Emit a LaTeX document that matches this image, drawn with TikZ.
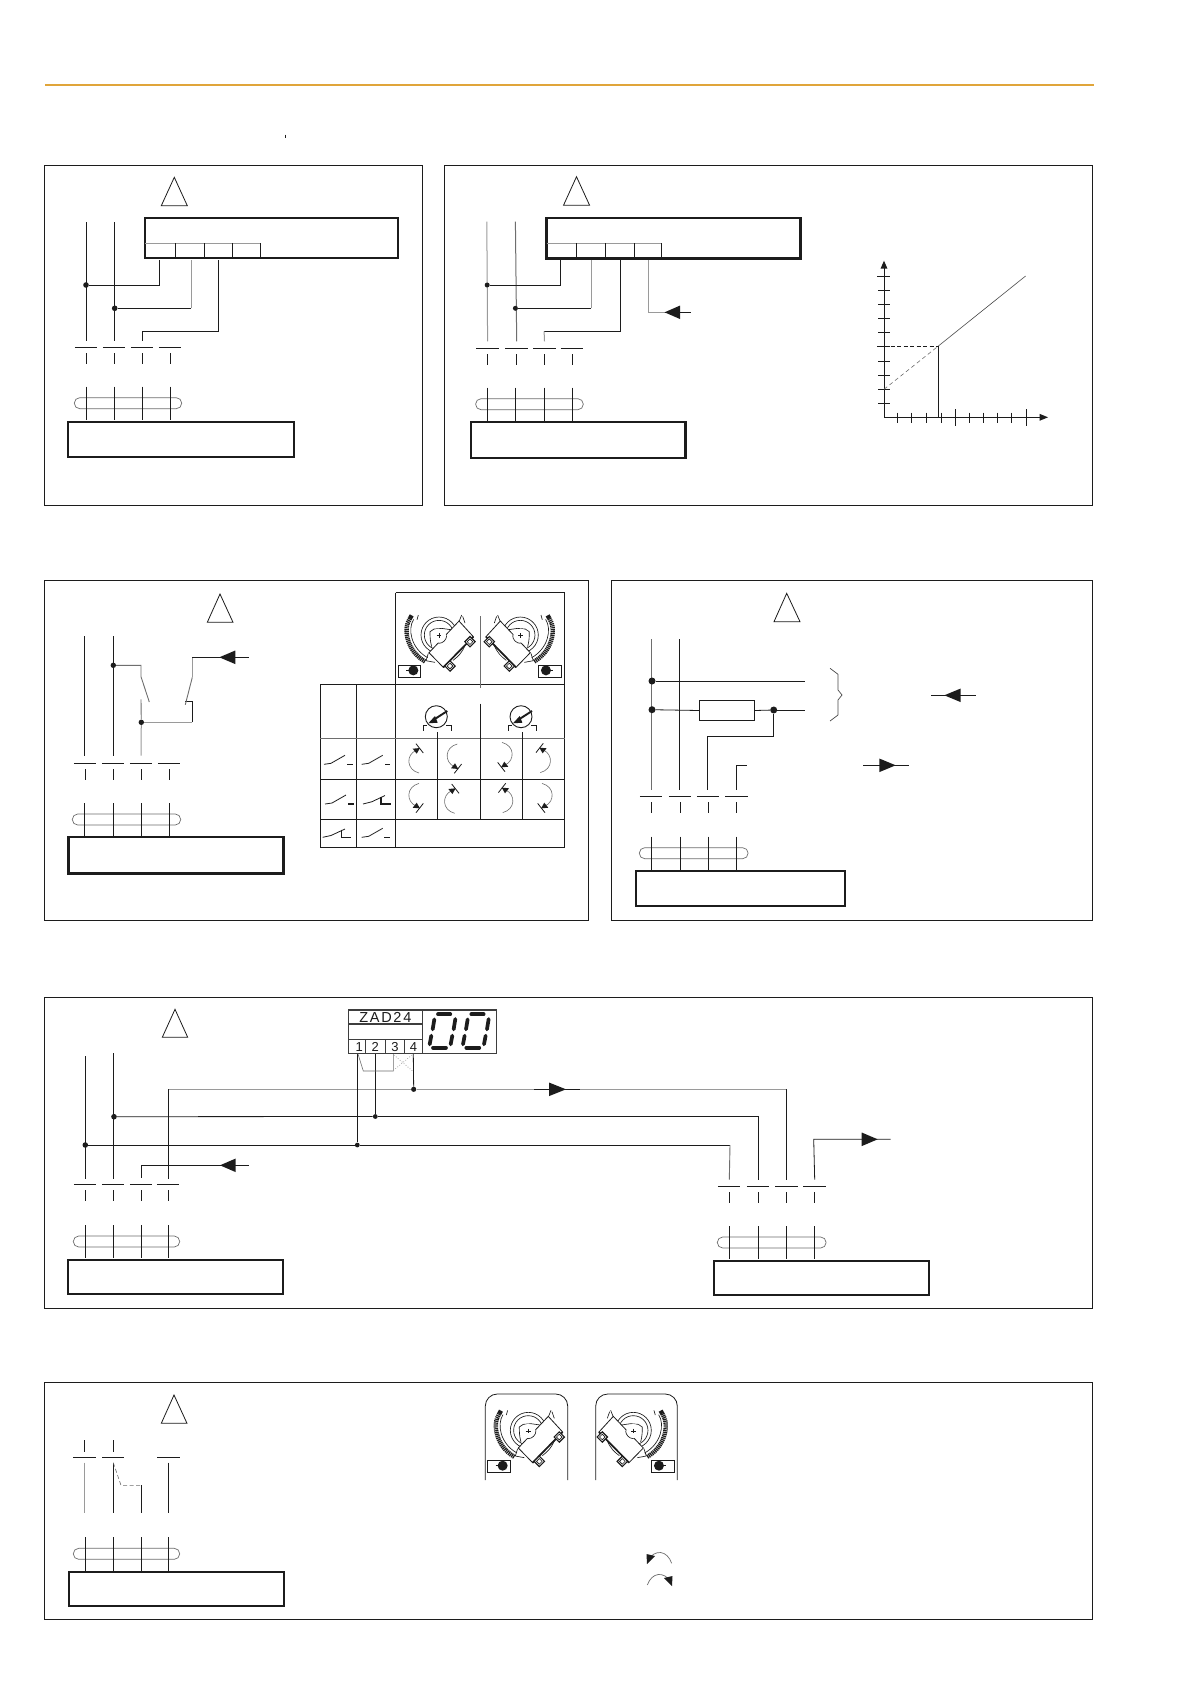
\documentclass[tikz,border=0pt]{standalone}
\usepackage{fontspec}
\setmainfont{Liberation Sans}
\newfontfamily\zadfont[LetterSpace=12]{Liberation Sans}
\definecolor{ink}{HTML}{1C1C1C}
\definecolor{pale}{HTML}{9A9A9A}
\definecolor{mid}{HTML}{6E6E6E}
\definecolor{amber}{HTML}{E0A53A}
\tikzset{
  wire/.style={draw=ink,line width=0.8pt},
  palewire/.style={draw=pale,line width=1pt},
  panel/.style={draw=ink,line width=0.9pt,fill=none},
  heavybox/.style={draw=ink,line width=2.4pt,fill=none},
  dot/.style={circle,fill=ink,inner sep=0pt,minimum size=5.6pt},
  warn/.style={draw=ink,line width=0.8pt,line join=miter},
  pill/.style={draw=mid,line width=0.7pt,rounded corners=5.4pt},
  grid/.style={draw=ink,line width=0.7pt},
  gridpale/.style={draw=mid,line width=0.8pt},
  thinwire/.style={draw=mid,line width=0.6pt},
  darkthin/.style={draw=ink,line width=0.65pt},
  seg/.style={draw=ink,line width=3.7pt,line cap=round},
  actuator/.pic={
    \begin{scope}[x=0.3333pt,y=-0.3333pt]
      \draw[darkthin] (0,-2) circle [radius=54];
      \draw[darkthin] (0,-2) circle [radius=44];
      \draw[darkthin] (-22,33) .. controls (-27,15) and (-27,0) .. (-27,-12) -- (-15,-20) -- (8,-22) -- (43,-17);
      \draw[draw=ink,line width=4.4pt,dash pattern=on 1.2pt off 0.7pt] (-87,-52) .. controls (-110,-20) and (-95,48) .. (-41,78);
      \draw[draw=ink,line width=4.4pt] (-87,-52) -- (-82,-61);
      \draw[darkthin] (-76,-49) .. controls (-95,-20) and (-84,38) .. (-34,66);
      \draw[darkthin] (-62,-62) -- (-66,-48);
      \draw[darkthin] (68,-62) -- (60,-42) (71,-58) -- (78,-38);
      \draw[darkthin] (-39,75) -- (-32,53) (-39,75) -- (-12,80);
      \draw[wire,fill=white] (60,-44) -- (103,3) -- (13,95) -- (-30,51) -- cycle;
      \draw[draw=ink,line width=1.7pt] (103,3) -- (13,95);
      \draw[darkthin] (78,30) .. controls (68,52) and (58,62) .. (42,74);
      \draw[draw=ink,line width=1.1pt,fill=white,rotate around={45:(93,18)}] (82,7) rectangle (104,29);
      \draw[draw=ink,line width=1.1pt,fill=white,rotate around={45:(33,91)}] (22,80) rectangle (44,102);
      \draw[darkthin,rotate around={45:(93,18)}] (87,12) rectangle (99,24);
      \draw[darkthin,rotate around={45:(33,91)}] (27,85) rectangle (39,97);
      \fill[white] (0,0) circle [radius=21];
      \draw[darkthin] (23,-1) .. controls (23,12) and (12,23) .. (-1,23);
      \draw[wire] (-7,0) -- (7,0) (0,-7) -- (0,7);
      \draw[wire,fill=white] (-122,88) rectangle (-55,125);
      \fill[ink] (-77,104) circle [radius=15];
      \draw[wire] (-98,104) -- (-88,104);
    \end{scope}
  },
  rotmark/.pic={
    \draw[thinwire] (3,14.3) .. controls (-10,11) and (-10,-4) .. (0,-8.3);
    \draw[wire] (0,-15) -- (7.3,-5.7);
    \fill[ink] (4,-10.7) -- (-3.3,-10) -- (0.7,-5) -- cycle;
  }
}
% named heavy or plain rectangle
\newcommand{\boxn}[6]{%
  \pgfmathsetmacro\myw{(#4)-(#2)}\pgfmathsetmacro\myh{(#5)-(#3)}%
  \node[#6,anchor=north west,minimum width=\myw pt,minimum height=\myh pt,inner sep=0pt,outer sep=0pt] (#1) at (#2,#3) {};}
% heavy rectangle given by its outer edges
\newcommand{\hvy}[5]{\boxn{#1}{#2+1.1}{#3+1.1}{#4-1.1}{#5-1.1}{heavybox}}
% warning triangle
\newcommand{\warntri}[6]{\draw[warn] (#1,#2) -- (#3,#6) -- (#4,#6) -- cycle;}
% terminal row: name, four x, y of the dashes
\newcommand{\termunit}[6]{%
  \foreach \k/\xx in {1/#2,2/#3,3/#4,4/#5}{%
    \draw[wire] (\xx-11.4,#6) -- (\xx+11,#6);
    \draw[wire] (\xx,#6+6) -- (\xx,#6+17);
    \coordinate (#1\k) at (\xx,#6-6.6);
  }}
% cable stubs and pill: four x, y of the top
\newcommand{\lowunit}[5]{%
  \draw[pill] (#1-12,#5+11) rectangle (#4+11.4,#5+22);
  \foreach \xx in {#1,#2,#3,#4}{\draw[wire] (\xx,#5) -- (\xx,#5+33.3);}}
\newcommand{\arrL}[3]{\fill[ink] (#1,#3) -- (#2,#3-6.8) -- (#2,#3+6.8) -- cycle;}
\newcommand{\swa}[2]{\draw[wire] (#1,#2) -- (#1+7,#2-1) -- (#1+21,#2-9);}
\newcommand{\gauge}[2]{%
  \draw[draw=ink,line width=0.9pt] (#1,#2) circle [radius=11];
  \draw[draw=ink,line width=1.9pt] (#1+11,#2-5.7) -- (#1-1,#2+2);
  \fill[ink] (#1-8,#2+6.6) -- (#1-1.3,#2-0.7) -- (#1+1.4,#2+6) -- cycle;
  \draw[wire] (#1-13,#2+14) -- (#1-13,#2+8.3) -- (#1-9,#2+8.3);
  \draw[wire] (#1+10,#2+8.3) -- (#1+15,#2+8.3) -- (#1+15,#2+14);}
\newcommand{\sevenzero}[1]{%
  \begin{scope}[x=0.3333pt,y=-0.3333pt,shift={(#1,0)}]
    \draw[seg] (294,43) -- (331,43);
    \draw[seg] (283,58) -- (278,88);
    \draw[seg] (346,57) -- (341,88);
    \draw[seg] (274,107) -- (269,133);
    \draw[seg] (337,107) -- (332,133);
    \draw[seg] (279,143) -- (318,143);
  \end{scope}}
\begin{document}
\begin{tikzpicture}[x=1pt,y=-1pt]
\useasboundingbox (0,0) rectangle (1190,1684);
\fill[white] (0,0) rectangle (1190,1684);
% header rule and the tiny mark
\draw[draw=amber,line width=1.5pt] (45,85) coordinate (rulea) -- (1094,85) coordinate (ruleb);
\draw[draw=ink,line width=0.6pt] (285.5,134.5) coordinate (ticka) -- (285.5,137.5) coordinate (tickb);

% ---------- panel 1
\boxn{pa}{44.3}{165.7}{422.7}{505.7}{panel}
\warntri{174.3}{177.3}{161.3}{187.3}{}{205.7}
\hvy{patop}{143.7}{216.7}{399.3}{259.3}
\draw[palewire] (145,243.3) -- (260.3,243.3);
\foreach \xx in {175.3,204.3,232.3,260.3}{\draw[wire] (\xx,243.3) -- (\xx,258);}
\termunit{pat}{86.3}{114.3}{142.3}{170.3}{347.3}
\lowunit{86.3}{114.3}{142.3}{170.3}{386.7}
\hvy{pabox}{66.7}{421}{295.3}{458}
\draw[wire] (86.3,222.3) coordinate (pav1) -- (pat1);
\draw[wire] (114.3,222.3) coordinate (pav2) -- (pat2);
\node[dot] (pad1) at (86,285) {};
\node[dot] (pad2) at (114.7,308.3) {};
\draw[wire] (pad1) -| (159.3,260);
\draw[wire] (pad2) -- (191,308.3);
\draw[palewire] (191,308.3) -- (191,260);
\draw[wire] (218.3,260) -- (218.3,331.3) -| (pat3);

% ---------- panel 2
\boxn{pb}{444.6}{165.3}{1092.7}{505.3}{panel}
\warntri{576.5}{176.7}{563.5}{589.6}{}{205.3}
\hvy{pbtop}{545.4}{217}{801.6}{259.7}
\draw[palewire] (546.5,243.3) -- (661.7,243.3);
\foreach \xx in {576.5,605.6,633.9,661.7}{\draw[wire] (\xx,243.3) -- (\xx,258.5);}
\termunit{pbt}{487.6}{516.7}{544.5}{571.9}{348}
\lowunit{487.6}{515.4}{544.5}{571.9}{387.7}
\hvy{pbbox}{469.9}{421}{686.5}{459.3}
\draw[draw=pale,line width=1pt] (486.8,221.7) coordinate (pbv1) -- (pbt1);
\draw[draw=mid,line width=1pt] (515.4,221.7) coordinate (pbv2) -- (pbt2);
\node[dot,minimum size=5pt] (pbd1) at (487.2,285) {};
\node[dot,minimum size=5pt] (pbd2) at (515.4,308.3) {};
\draw[wire] (pbd1) -| (560.5,260);
\draw[wire] (pbd2) -- (591.3,308.3);
\draw[palewire] (591.3,308.3) -- (591.3,260);
\draw[wire] (620,260) -- (620,331.3) -- (544.1,331.3);
\draw[palewire] (544.1,331.3) -- (pbt3);
\draw[palewire] (648.2,260) -- (648.2,312.3) -- (664.6,312.3);
\draw[wire] (664.6,312.3) -- (691.2,312.3);
\arrL{664.6}{680.2}{312.3}
% graph
\begin{scope}[xshift=-1pt]
\coordinate (gorg) at (885,417.3);
\draw[wire] (885,268) coordinate (gtop) -- (gorg) -- (1042,417.3) coordinate (gright);
\fill[ink] (885,260.7) -- (881.6,268.5) -- (888.4,268.5) -- cycle;
\fill[ink] (1049,417.3) -- (1040.5,413.8) -- (1040.5,420.8) -- cycle;
\foreach \yy in {276.7,346.3}{\draw[wire] (878.3,\yy) -- (891,\yy);}
\foreach \yy in {290.3,304.3,318.3,332.3,361.3,375.3,389.3,403.3}{\draw[wire] (879,\yy) -- (891,\yy);}
\foreach \xx in {898.5,912.8,927.6,941.9,970.1,984,998.3,1012.2}{\draw[wire] (\xx,412.7) -- (\xx,422.7);}
\foreach \xx in {956.2,1027}{\draw[wire] (\xx,409.3) -- (\xx,426);}
\coordinate (gknee) at (939,346.3);
\draw[draw=ink!80,line width=0.6pt] (gknee) -- (1026.6,276) coordinate (gend);
\draw[thinwire,dash pattern=on 4pt off 3pt] (885,389.3) coordinate (gcut) -- (gknee);
\draw[wire,dash pattern=on 4pt off 2.5pt] (885,346.3) coordinate (glevel) -- (gknee);
\draw[draw=ink,line width=1pt] (gknee) -- (939,417.3) coordinate (gfoot);
\end{scope}

% ---------- panel 3
\boxn{pc}{44.3}{580.3}{588.5}{920.3}{panel}
\draw[draw=ink,line width=1.4pt] (588.5,580.3) -- (588.5,920.3);
\warntri{220}{594}{207.3}{233}{}{622.3}
\termunit{pct}{85.3}{113.3}{141.3}{169.3}{763.3}
\lowunit{84.3}{113.3}{141.3}{169.3}{803}
\boxn{pcbox}{68.6}{837}{283.2}{873.8}{draw=ink,line width=2.8pt}
\draw[wire] (84.7,636) coordinate (pcv1) -- (84.7,755.7);
\draw[wire] (113.3,636) coordinate (pcv2) -- (113.3,755.7);
\node[dot,minimum size=5.4pt] (pcd1) at (113.3,665.3) {};
\node[dot,minimum size=5.4pt] (pcd2) at (141.3,722.3) {};
\draw[thinwire,line width=0.9pt] (pcd1) -| (141,676.7) -- (149.3,702);
\draw[thinwire,line width=0.9pt] (141,699.3) -- (pcd2);
\draw[palewire] (pcd2) -- (141,755.7);
\draw[palewire] (pcd2) -- (192.3,722.3);
\draw[wire] (192.3,722.3) -- (192.3,701.3) -- (185.3,701.3);
\draw[thinwire,line width=0.9pt] (185.3,704.7) -- (192.3,677.3);
\draw[palewire] (192.3,677.3) -- (192.3,657.3);
\draw[wire] (192.3,657.3) -- (249,657.3);
\arrL{219.3}{235.3}{657.3}
% switch table
\draw[grid] (395.6,592.7) -- (564.7,592.7) -- (564.7,847.2) -- (320,847.2) -- (320,684) -- (564.7,684);
\draw[grid] (395.6,592.7) -- (395.6,847.2);
\draw[grid] (356.5,684) -- (356.5,847.2);
\draw[gridpale] (320,737.9) -- (564.7,737.9);
\draw[grid] (320,779) -- (564.7,779) (320,819.1) -- (564.7,819.1);
\draw[gridpale] (480.5,616) -- (480.5,687.7);
\draw[draw=ink,line width=1.6pt] (480.5,703.7) -- (480.5,819.1);
\draw[grid] (437.5,732) -- (437.5,819.1) (522.5,732) -- (522.5,819.1);
\pic (acta) at (439,635.7) {actuator};
\pic[xscale=-1] (actb) at (520.3,635.7) {actuator};
\gauge{436.3}{716.7}
\gauge{521}{716.7}
\swa{324}{764.3}\draw[wire] (347,764.3) -- (353,764.3);
\swa{361.7}{764.3}\draw[wire] (385,764.3) -- (390,764.3);
\swa{325}{804}\draw[draw=ink,line width=1.5pt] (348,804) -- (354,804);
\draw[wire] (363,804) -- (372,801.7) -- (385,795.5);\draw[draw=ink,line width=1.2pt] (381,796.5) -- (381,804) -- (391,804);
\draw[wire] (322.7,837.3) -- (331,835.5) -- (345,829);\draw[wire] (341.7,829.5) -- (341.7,837.3) -- (351,837.3);
\swa{361.7}{837.3}\draw[wire] (384,837.3) -- (390,837.3);
\pic at (416,758.7) {rotmark};
\pic[yscale=-1] at (454.3,758.3) {rotmark};
\pic[xscale=-1,yscale=-1] at (505,756.7) {rotmark};
\pic[xscale=-1] at (543.3,758.3) {rotmark};
\pic[yscale=-1] at (416,797.7) {rotmark};
\pic at (451.7,799) {rotmark};
\pic[xscale=-1] at (505.7,798.3) {rotmark};
\pic[xscale=-1,yscale=-1] at (545,797.7) {rotmark};

% ---------- panel 4
\boxn{pd}{611.3}{580.3}{1092.7}{920.3}{panel}
\warntri{786.7}{593.3}{774}{800}{}{621.7}
\termunit{pdt}{651.3}{680.3}{708.3}{736.7}{796.3}
\lowunit{651.3}{680.3}{708.3}{736.7}{836.7}
\hvy{pdbox}{635}{869.7}{846.3}{907}
\draw[draw=mid,line width=0.9pt] (651.3,639) coordinate (pdv1) -- (pdt1);
\draw[wire] (679.3,639) coordinate (pdv2) -- (679.3,789.7);
\node[dot,minimum size=7pt] (pdd1) at (652,681) {};
\node[dot,minimum size=7pt] (pdd2) at (652,709.7) {};
\node[dot,minimum size=7pt] (pdd3) at (773.7,710) {};
\boxn{pdres}{699.3}{700.3}{754.7}{720.7}{wire,line width=0.9pt}
\draw[wire] (pdd1) -- (805,681) coordinate (pde1);
\draw[wire] (pdd2) -- (pdres.west);
\draw[wire] (pdres.east) -- (pdd3);
\draw[wire] (pdd3) -- (805,710) coordinate (pde2);
\draw[wire] (pdd3) |- (707.7,736.3) -- (707.7,789.7);
\draw[wire] (pdt4) -- (736.7,765.3) -- (747,765.3) coordinate (pde3);
\draw[draw=ink!80,line width=0.7pt,line join=round] (830,668.3) -- (838,674.3) -- (838,690) -- (842,695) -- (838,700) -- (838,715) -- (830,721);
\draw[wire] (931,695.3) coordinate (pdl1) -- (976,695.3) coordinate (pdl2);
\arrL{944.3}{960.7}{695.3}
\draw[wire] (863,765.3) coordinate (pdl3) -- (909,765.3) coordinate (pdl4);
\arrL{895.7}{879.3}{765.3}

% ---------- panel 5
\boxn{pe}{44.3}{997.7}{1092.7}{1308.3}{panel}
\warntri{175}{1009.3}{162.3}{187.7}{}{1037.3}
\termunit{pet}{85.3}{113.3}{141.3}{168.3}{1184.3}
\lowunit{85.3}{113.3}{141.3}{168.3}{1225}
\hvy{pebox}{66.7}{1258.7}{284.3}{1295}
\termunit{pfr}{729.3}{758.3}{786.7}{814.7}{1186.3}
\lowunit{729.3}{758.3}{786.7}{814.7}{1226}
\hvy{pfbox}{712.7}{1260}{930.3}{1296}
\draw[wire] (85.3,1056) coordinate (pev1) -- (85.3,1179);
\draw[wire] (113.3,1053.3) coordinate (pev2) -- (113.3,1179);
\node[dot,minimum size=5.6pt] (ped1) at (85.3,1145) {};
\node[dot,minimum size=5.6pt] (ped2) at (114,1116.7) {};
\node[dot,minimum size=4.8pt] (ped3) at (357.3,1145) {};
\node[dot,minimum size=4.8pt] (ped4) at (375.3,1116.5) {};
\node[dot,minimum size=5.2pt] (ped5) at (413.7,1089.3) {};
\draw[wire] (ped1) -- (ped3);
\draw[wire] (ped3) -- (730,1145);
\draw[draw=mid,line width=0.9pt] (730,1145) -- (pfr1);
\draw[wire] (ped2) -- (ped4);
\draw[wire] (ped4) -- (758.3,1116.5) -- (pfr2);
\draw[wire] (168.7,1179) -- (168.7,1089.3);
\draw[palewire] (168.7,1089.3) -- (ped5);
\draw[palewire] (ped5) -- (534,1089.3);
\draw[wire] (534,1089.3) -- (580,1089.3);
\draw[palewire] (580,1089.3) -- (786.7,1089.3);
\draw[wire] (786.7,1089.3) -- (pfr3);
\arrL{566}{549}{1089.3}
\draw[wire] (pet3) -- (141.3,1165.3) -- (249,1165.3) coordinate (pee1);
\arrL{220}{235.7}{1165.3}
\draw[wire] (pfr4) -- (813.7,1139.3) -- (890.7,1139.3) coordinate (pee2);
\arrL{877.7}{861.7}{1139.3}
% ZAD24 unit
\boxn{zad}{348.7}{1010}{496.7}{1053.3}{draw=ink!85,line width=1.5pt}
\draw[draw=ink!85,line width=1.5pt] (422.3,1010) -- (422.3,1053.3);
\draw[draw=ink!85,line width=1.2pt] (348.7,1024) -- (422.3,1024) (348.7,1039.3) -- (422.3,1039.3);
\draw[draw=ink!85,line width=1pt] (365.7,1039.3) -- (365.7,1053.3) (385,1039.3) -- (385,1053.3) (404.3,1039.3) -- (404.3,1053.3);
\node[font=\zadfont\fontsize{14.5}{14.5}\selectfont,text=ink,inner sep=0pt] (zadname) at (385.3,1017.3) {ZAD24};
\node[font=\fontsize{13}{13}\selectfont,text=ink,inner sep=0pt] (zadn1) at (359.3,1046.7) {1};
\node[font=\fontsize{13}{13}\selectfont,text=ink,inner sep=0pt] (zadn2) at (375.3,1046.7) {2};
\node[font=\fontsize{13}{13}\selectfont,text=ink,inner sep=0pt] (zadn3) at (395,1046.7) {3};
\node[font=\fontsize{13}{13}\selectfont,text=ink,inner sep=0pt] (zadn4) at (413.5,1046.7) {4};
\begin{scope}[shift={(340,1000)}]
\sevenzero{0}
\sevenzero{100}
\end{scope}
\draw[wire] (357.3,1054) -- (ped3);
\draw[wire] (375.3,1054) -- (ped4);
\draw[wire] (413.3,1054) -- (ped5);
\draw[thinwire] (358,1054) -- (363.3,1071) -- (393.3,1071) -- (393.3,1054);
\draw[draw=mid,line width=0.6pt,dotted] (394,1055) -- (412.5,1071) (412,1055) -- (394,1070);

% ---------- panel 6
\boxn{pf}{44.7}{1382.7}{1092.7}{1619}{panel}
\warntri{174}{1395}{161.3}{187}{}{1423.3}
\foreach \xx in {84.7,113.3}{\draw[wire] (\xx,1440) -- (\xx,1451.7);}
\draw[wire] (73,1457.3) -- (96,1457.3) (102,1457.3) -- (124,1457.3) (157,1457.3) -- (180,1457.3);
\draw[palewire] (84.7,1462.7) coordinate (pgv1) -- (84.7,1513.3) coordinate (pgw1);
\draw[wire] (113.3,1462.7) coordinate (pgv2) -- (113.3,1513.3) coordinate (pgw2);
\draw[wire] (168.3,1462.7) coordinate (pgv4) -- (168.3,1513.3) coordinate (pgw4);
\draw[thinwire,dash pattern=on 4pt off 2.5pt] (pgv2) -- (121,1485.3) -- (141.3,1485.3);
\draw[wire] (141.3,1485.3) -- (141.3,1513.3) coordinate (pgw3);
\lowunit{85.3}{113.3}{141.3}{168.3}{1537.3}
\hvy{pgbox}{67.7}{1571}{285.3}{1607}
% actuators with rounded housings
\draw[wire,rounded corners=12pt] (485.3,1480) coordinate (hla) -- (485.3,1394) -- (567.7,1394) -- (567.7,1480) coordinate (hlb);
\draw[wire,rounded corners=12pt] (595.7,1480) coordinate (hra) -- (595.7,1394) -- (677.3,1394) -- (677.3,1480) coordinate (hrb);
\pic (actc) at (528.3,1431) {actuator};
\pic[xscale=-1] (actd) at (633.3,1431) {actuator};
% rotation senses
\draw[thinwire,line width=0.7pt] (671.7,1563.3) .. controls (667,1550) and (655,1549) .. (648,1560);
\fill[ink] (647,1564) -- (646.5,1554) -- (655,1556) -- cycle;
\draw[thinwire,line width=0.7pt] (647.3,1585) .. controls (652,1572) and (664,1571) .. (671,1582);
\fill[ink] (672,1586) -- (672.5,1576) -- (664,1578) -- cycle;
\end{tikzpicture}
\end{document}
